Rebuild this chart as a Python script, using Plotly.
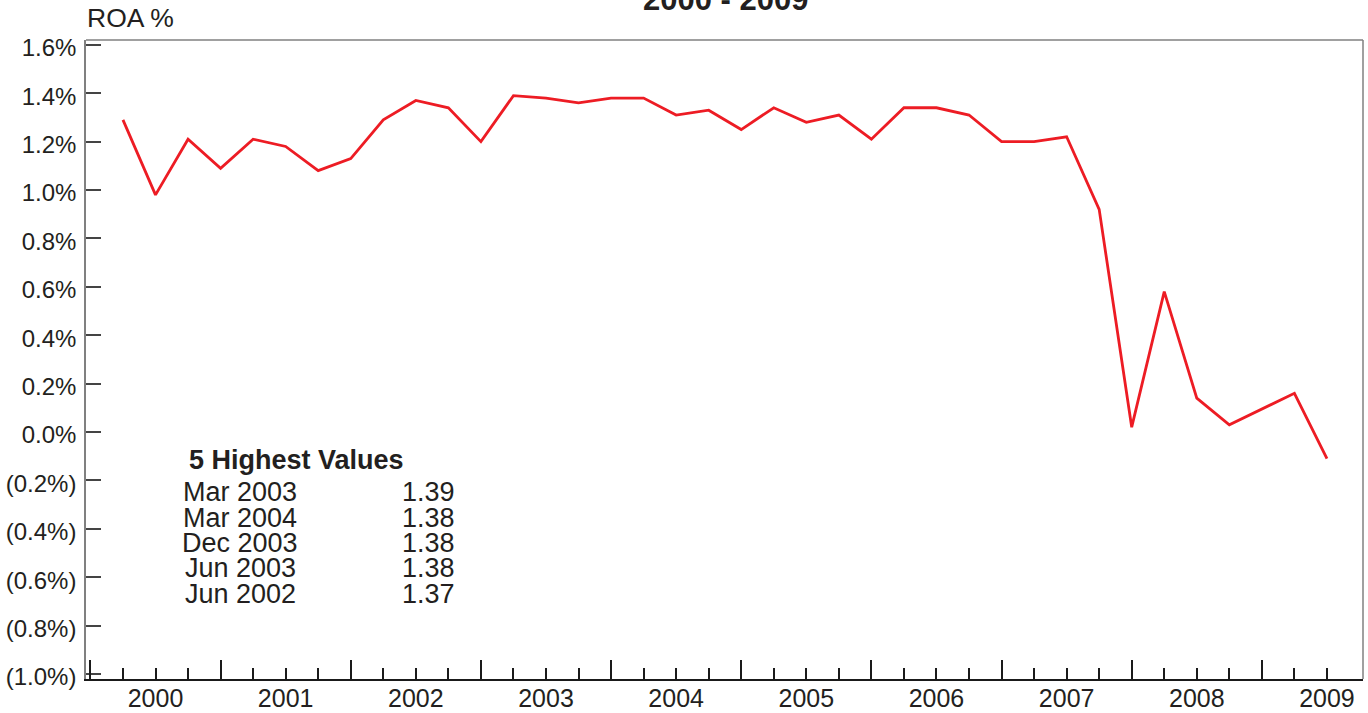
import plotly.graph_objects as go

# ---------------- data ----------------
quarters = [
    "Mar 2000", "Jun 2000", "Sep 2000", "Dec 2000",
    "Mar 2001", "Jun 2001", "Sep 2001", "Dec 2001",
    "Mar 2002", "Jun 2002", "Sep 2002", "Dec 2002",
    "Mar 2003", "Jun 2003", "Sep 2003", "Dec 2003",
    "Mar 2004", "Jun 2004", "Sep 2004", "Dec 2004",
    "Mar 2005", "Jun 2005", "Sep 2005", "Dec 2005",
    "Mar 2006", "Jun 2006", "Sep 2006", "Dec 2006",
    "Mar 2007", "Jun 2007", "Sep 2007", "Dec 2007",
    "Mar 2008", "Jun 2008", "Sep 2008", "Dec 2008",
    "Mar 2009", "Jun 2009",
]
roa = [
    1.29, 0.98, 1.21, 1.09,
    1.21, 1.18, 1.08, 1.13,
    1.29, 1.37, 1.34, 1.20,
    1.39, 1.38, 1.36, 1.38,
    1.38, 1.31, 1.33, 1.25,
    1.34, 1.28, 1.31, 1.21,
    1.34, 1.34, 1.31, 1.20,
    1.20, 1.22, 0.92, 0.02,
    0.58, 0.14, 0.03, 0.095,
    0.16, -0.11,
]
years = [2000, 2001, 2002, 2003, 2004, 2005, 2006, 2007, 2008, 2009]
y_ticks = [-1.0, -0.8, -0.6, -0.4, -0.2, 0.0, 0.2, 0.4, 0.6, 0.8, 1.0, 1.2, 1.4, 1.6]

top5_dates = ["Mar 2003", "Mar 2004", "Dec 2003", "Jun 2003", "Jun 2002"]
top5_values = ["1.39", "1.38", "1.38", "1.38", "1.37"]

title_text = "2000 - 2009"
y_title = "ROA %"

# ---------------- helpers ----------------
MONTH_FRAC = {"Mar": 0.25, "Jun": 0.5, "Sep": 0.75, "Dec": 1.0}


def qpos(label):
    m, y = label.split()
    return int(y) + MONTH_FRAC[m]


x_pos = [qpos(q) for q in quarters]


def pct_label(v):
    s = f"{abs(v):.1f}%"
    return f"({s})" if v < 0 else s


FONT = "Liberation Sans, Arial, Helvetica, sans-serif"
TXT = "#231f20"
RED = "#ed1c24"
FRAME = "#808080"

W, H = 1368, 713
ML, MR, MT, MB = 86, 5, 40, 34
PH = H - MT - MB


def py(pix):
    """pixel row -> paper y"""
    return (H - MB - pix) / PH


def px(pix):
    return (pix - ML) / (W - ML - MR)


xmin, xmax = 1999.966, 2009.777
ymin, ymax = -1.0206, 1.620

fig = go.Figure()
fig.add_trace(go.Scatter(
    x=x_pos, y=roa, mode="lines",
    line=dict(color=RED, width=2.8),
    hoverinfo="skip", showlegend=False,
))
# empty trace to create the overlay axis used for long year-boundary ticks
fig.add_trace(go.Scatter(x=[], y=[], xaxis="x2", showlegend=False, hoverinfo="skip"))

short_ticks = [yr + f for yr in years for f in (0.25, 0.75) if yr + f <= max(x_pos)]
long_ticks = [yr for yr in years if xmin < yr <= max(x_pos)]

fig.update_layout(
    width=W, height=H, autosize=False,
    margin=dict(l=ML, r=MR, t=MT, b=MB, pad=0, autoexpand=False),
    paper_bgcolor="white", plot_bgcolor="white",
    font=dict(family=FONT, color=TXT, size=24),
    xaxis=dict(
        range=[xmin, xmax], showgrid=False, zeroline=False, automargin=False,
        tickmode="array", tickvals=[yr + 0.5 for yr in years],
        ticktext=[str(yr) for yr in years],
        ticks="inside", ticklen=11, tickwidth=1.5, tickcolor="#1a1a1a",
        minor=dict(tickmode="array", tickvals=short_ticks, ticks="inside",
                   ticklen=11, tickwidth=1.5, tickcolor="#1a1a1a", showgrid=False),
        showline=True, linecolor="#1a1a1a", linewidth=1.5,
        tickfont=dict(size=25, color=TXT, family=FONT),
        ticklabelstandoff=-4,
        fixedrange=True,
    ),
    xaxis2=dict(
        overlaying="x", matches="x", anchor="y", side="bottom", automargin=False,
        range=[xmin, xmax], showgrid=False, zeroline=False, showline=False,
        tickmode="array", tickvals=long_ticks, showticklabels=False,
        ticks="inside", ticklen=19, tickwidth=1.5, tickcolor="#1a1a1a",
    ),
    yaxis=dict(
        range=[ymin, ymax], showgrid=False, zeroline=False, automargin=False,
        tickmode="array", tickvals=y_ticks,
        ticktext=[pct_label(v) for v in y_ticks],
        ticks="inside", ticklen=15, tickwidth=1.5, tickcolor="#444444",
        showline=True, linecolor=FRAME, linewidth=1.5,
        tickfont=dict(size=24, color=TXT, family=FONT),
        ticklabelstandoff=3,
        ticklabelshift=3,
        fixedrange=True,
    ),
    shapes=[
        dict(type="line", xref="paper", yref="paper", x0=0, x1=1, y0=1, y1=1,
             line=dict(color=FRAME, width=1.5)),
        dict(type="line", xref="paper", yref="paper", x0=1, x1=1, y0=0, y1=1,
             line=dict(color=FRAME, width=1.5)),
    ],
)

ann = []
ann.append(dict(text=f"<b>{title_text}</b>", xref="paper", yref="paper",
                x=px(725), y=py(0), xanchor="center", yanchor="middle",
                showarrow=False, font=dict(size=31, color=TXT, family=FONT)))
ann.append(dict(text=y_title, xref="paper", yref="paper",
                x=px(85), y=py(18), xanchor="left", yanchor="middle",
                showarrow=False, font=dict(size=26.5, color=TXT, family=FONT)))
ann.append(dict(text="<b>5 Highest Values</b>", xref="paper", yref="paper",
                x=px(296), y=py(460), xanchor="center", yanchor="middle",
                showarrow=False, font=dict(size=27, color=TXT, family=FONT)))
row_y = [492, 518, 543, 568, 594]
for d, v, ry in zip(top5_dates, top5_values, row_y):
    ann.append(dict(text=d, xref="paper", yref="paper", x=px(240), y=py(ry),
                    xanchor="center", yanchor="middle", showarrow=False,
                    font=dict(size=27, color=TXT, family=FONT)))
    ann.append(dict(text=v, xref="paper", yref="paper", x=px(457), y=py(ry),
                    xanchor="right", yanchor="middle", showarrow=False,
                    font=dict(size=27, color=TXT, family=FONT)))
fig.update_layout(annotations=ann)

fig.write_html(
    "out.html",
    config={"displayModeBar": False},
    post_script="document.body.style.margin='0';document.body.style.overflow='hidden';",
)
